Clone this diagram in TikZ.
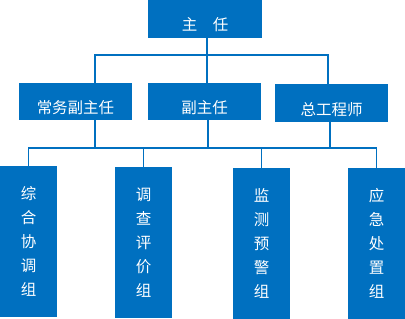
\documentclass[tikz,border=0pt]{standalone}
\usepackage{fontspec}
\newfontfamily\cjk{Noto Sans CJK SC}
\definecolor{orgblue}{RGB}{0,112,192}
\begin{document}
\begin{tikzpicture}[
  x=1pt, y=-1pt,
  head/.style={rectangle, fill=orgblue, text=white, inner ysep=0pt, text height=30.5pt, text depth=7pt, font=\cjk\fontsize{15.5}{24}\selectfont},
  group/.style={rectangle, fill=orgblue, text=white, align=center, minimum width=57pt, minimum height=151pt, inner sep=0pt, font=\cjk\fontsize{15.5}{24}\selectfont},
  link/.style={line width=1.8pt, orgblue},
]
  \useasboundingbox (0,0) rectangle (405,319);

  \node[head, minimum width=114pt] (zr) at (205, 19) {主　任};

  \node[head, minimum width=113pt] (cw) at (75.5, 101.5) {常务副主任};
  \node[head, minimum width=113pt] (fzr) at (204.5, 101.5) {副主任};
  \node[head, minimum width=113pt, text height=31pt] (zg) at (331.5, 103) {总工程师};

  \node[group] (zh) at (28.5, 241.5) {综\\合\\协\\调\\组};
  \node[group] (dc) at (143.5, 242.5) {调\\查\\评\\价\\组};
  \node[group] (jc) at (261.5, 243.5) {监\\测\\预\\警\\组};
  \node[group] (yj) at (376.5, 243.5) {应\\急\\处\\置\\组};

  \coordinate (bus1) at (0, 55);
  \coordinate (bus2) at (0, 148);
  \coordinate (cwtop) at ([xshift=19.5pt]cw.north);
  \coordinate (cwbot) at ([xshift=19.5pt]cw.south);
  \coordinate (fzrbot) at ([xshift=3.5pt]fzr.south);
  \coordinate (zgtop) at ([xshift=-3.5pt]zg.north);
  \coordinate (zgbot) at ([xshift=-1.5pt]zg.south);

  % top level
  \draw[link] ([xshift=2pt]zr.south) -- ([xshift=2.5pt]fzr.north);
  \draw[link] (cwtop) |- (zgtop |- bus1) -- (zgtop);

  % groups
  \draw[link] (cwbot) -- (cwbot |- bus2);
  \draw[link] (fzrbot) -- (fzrbot |- bus2);
  \draw[link] (zgbot) -- (zgbot |- bus2);
  \draw[link] (zh.north) |- (yj.north |- bus2) -- (yj.north);
  \draw[link] (dc.north) -- (dc.north |- bus2);
  \draw[link] (jc.north) -- (jc.north |- bus2);
\end{tikzpicture}
\end{document}
